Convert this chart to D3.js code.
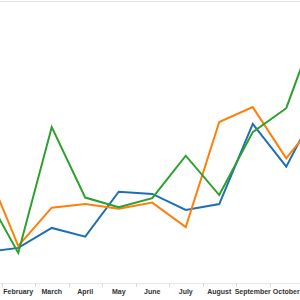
<!DOCTYPE html>
<html>
<head>
<meta charset="utf-8">
<script src="https://cdn.jsdelivr.net/npm/d3@7"></script>
<style>
  body { margin: 0; background: #fff; }
  svg { display: block; }
</style>
</head>
<body>
<svg id="chart" width="300" height="300"></svg>
<script>
let months = ['January', 'February', 'March', 'April', 'May', 'June', 'July',
              'August', 'September', 'October', 'November'];

// only these labels fall inside the cropped view
let shownMonths = ['February', 'March', 'April', 'May', 'June', 'July',
                   'August', 'September', 'October'];

let blueValues   = [11.0, 12.5, 19.6, 16.5, 32.5, 31.7, 26.0, 28.1, 56.6, 41.4, 64.2];
let orangeValues = [42.2, 13.2, 26.8, 28.1, 26.4, 28.6, 19.9, 57.3, 62.6, 44.4, 59.1];
let greenValues  = [32.2, 10.7, 55.5, 30.4, 27.0, 30.2, 45.3, 31.3, 53.7, 62.2, 94.7];

let seriesList = [
    { name: 'blue',   color: '#1f6fb2', values: blueValues },
    { name: 'orange', color: '#ff7f0e', values: orangeValues },
    { name: 'green',  color: '#2ca02c', values: greenValues }
];

let svg = d3.select('#chart');

// the view is a crop of a wider chart, so the band range runs off both edges
let x = d3.scaleBand()
    .domain(months)
    .range([-32, -32 + months.length * 33.5]);

let y = d3.scaleLinear()
    .domain([0, 100])
    .range([283, 2]);

// top border
svg.append('line')
    .attr('x1', 0).attr('x2', 300)
    .attr('y1', 1.5).attr('y2', 1.5)
    .attr('stroke', '#e4e4e4')
    .attr('stroke-width', 1);

// header line above the month labels
svg.append('line')
    .attr('x1', 0).attr('x2', 300)
    .attr('y1', 283.5).attr('y2', 283.5)
    .attr('stroke', '#e8e8e8')
    .attr('stroke-width', 1);

// dividers between months
svg.selectAll('.divider')
    .data(months.slice(1))
    .enter()
    .append('line')
    .attr('class', 'divider')
    .attr('x1', (m) => Math.round(x(m)) + 0.5)
    .attr('x2', (m) => Math.round(x(m)) + 0.5)
    .attr('y1', 283)
    .attr('y2', 287)
    .attr('stroke', '#dcdcdc');

let xAxis = svg.append('g')
    .attr('transform', 'translate(0,286)')
    .call(d3.axisBottom(x).tickValues(shownMonths).tickSize(0).tickPadding(3));

xAxis.select('.domain').remove();
xAxis.selectAll('text')
    .attr('font-family', '"Liberation Sans", Arial, sans-serif')
    .attr('font-size', 7)
    .attr('font-weight', 'bold')
    .attr('fill', '#333');

let line = d3.line()
    .x((d, i) => x(months[i]) + x.bandwidth() / 2)
    .y((d) => y(d));

svg.selectAll('.series')
    .data(seriesList)
    .enter()
    .append('path')
    .attr('class', 'series')
    .attr('d', (s) => line(s.values))
    .attr('fill', 'none')
    .attr('stroke', (s) => s.color)
    .attr('stroke-width', 2)
    .attr('stroke-linejoin', 'miter');
</script>
</body>
</html>
